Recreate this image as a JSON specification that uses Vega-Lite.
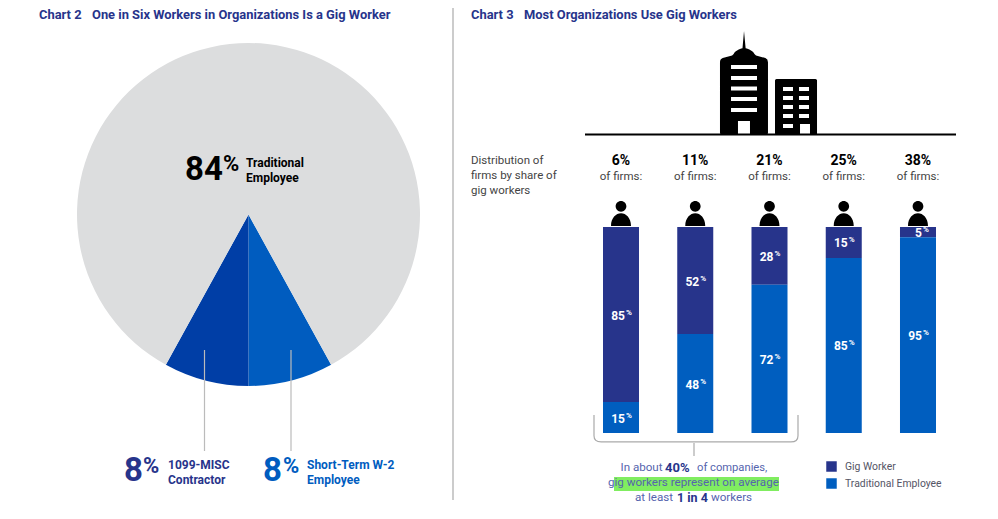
{"$schema":"https://vega.github.io/schema/vega-lite/v6.json","padding":0,"spacing":0,"bounds":"flush","resolve":{"scale":{"color":"independent"}},"config":{"view":{"stroke":null},"text":{"font":"Roboto","baseline":"middle","align":"left","dy":1},"legend":{"labelFont":"Roboto"}},"background":"white",
"datasets":{"pie":[{"segment":"Short-Term W-2 Employee","idx":1,"share":8},{"segment":"1099-MISC Contractor","idx":2,"share":8},{"segment":"Traditional Employee","idx":3,"share":84}],
"gig":[{"group":"6%","type":"Gig Worker","share":85},{"group":"6%","type":"Traditional Employee","share":15},{"group":"11%","type":"Gig Worker","share":52},{"group":"11%","type":"Traditional Employee","share":48},{"group":"21%","type":"Gig Worker","share":28},{"group":"21%","type":"Traditional Employee","share":72},{"group":"25%","type":"Gig Worker","share":15},{"group":"25%","type":"Traditional Employee","share":85},{"group":"38%","type":"Gig Worker","share":5},{"group":"38%","type":"Traditional Employee","share":95}],
"firms":[{"group":"6%"},{"group":"11%"},{"group":"21%"},{"group":"25%"},{"group":"38%"}]},
"hconcat":[
{"width":453,"height":519,"layer":[
{"data":{"name":"pie"},"mark":{"type":"arc","outerRadius":171.5},"encoding":{"theta":{"field":"share","type":"quantitative","scale":{"range":[2.639,8.922]}},"order":{"field":"idx"},"color":{"field":"segment","type":"nominal","legend":null,"scale":{"domain":["Short-Term W-2 Employee","1099-MISC Contractor","Traditional Employee"],"range":["#005cbf","#003ea6","#dcddde"]}},"x":{"datum":248.5,"type":"quantitative","scale":{"domain":[0,453],"nice":false},"axis":null},"y":{"datum":214.5,"type":"quantitative","scale":{"domain":[519,0],"nice":false},"axis":null}}},
{"data":{"values":[{}]},"layer":[
{"mark":{"type":"rule","color":"#bbbbbb","strokeWidth":1.5},"encoding":{"x":{"datum":453,"type":"quantitative","scale":{"domain":[0,453],"nice":false},"axis":null},"y":{"datum":8,"type":"quantitative","scale":{"domain":[519,0],"nice":false},"axis":null},"y2":{"datum":500}}},
{"mark":{"type":"rule","color":"#bbbbbb","strokeWidth":1.2},"encoding":{"x":{"datum":204.5,"type":"quantitative","scale":{"domain":[0,453],"nice":false},"axis":null},"y":{"datum":350,"type":"quantitative","scale":{"domain":[519,0],"nice":false},"axis":null},"y2":{"datum":451}}},
{"mark":{"type":"rule","color":"#bbbbbb","strokeWidth":1.2},"encoding":{"x":{"datum":291,"type":"quantitative","scale":{"domain":[0,453],"nice":false},"axis":null},"y":{"datum":350,"type":"quantitative","scale":{"domain":[519,0],"nice":false},"axis":null},"y2":{"datum":451}}},
{"mark":{"type":"text","text":"Chart 2","fontWeight":"bold","fontSize":12.9,"color":"#27348b"},"encoding":{"x":{"datum":39,"type":"quantitative","scale":{"domain":[0,453],"nice":false},"axis":null},"y":{"datum":14,"type":"quantitative","scale":{"domain":[519,0],"nice":false},"axis":null}}},
{"mark":{"type":"text","text":"One in Six Workers in Organizations Is a Gig Worker","fontWeight":"bold","fontSize":12.9,"color":"#27348b"},"encoding":{"x":{"datum":92,"type":"quantitative","scale":{"domain":[0,453],"nice":false},"axis":null},"y":{"datum":14,"type":"quantitative","scale":{"domain":[519,0],"nice":false},"axis":null}}},
{"mark":{"type":"text","text":"84","fontWeight":"bold","fontSize":33,"color":"#000000"},"encoding":{"x":{"datum":185,"type":"quantitative","scale":{"domain":[0,453],"nice":false},"axis":null},"y":{"datum":169,"type":"quantitative","scale":{"domain":[519,0],"nice":false},"axis":null}}},
{"mark":{"type":"text","text":"%","fontWeight":"bold","fontSize":22,"color":"#000000"},"encoding":{"x":{"datum":223,"type":"quantitative","scale":{"domain":[0,453],"nice":false},"axis":null},"y":{"datum":163,"type":"quantitative","scale":{"domain":[519,0],"nice":false},"axis":null}}},
{"mark":{"type":"text","text":"Traditional","fontWeight":"bold","fontSize":12,"color":"#000000"},"encoding":{"x":{"datum":246,"type":"quantitative","scale":{"domain":[0,453],"nice":false},"axis":null},"y":{"datum":162,"type":"quantitative","scale":{"domain":[519,0],"nice":false},"axis":null}}},
{"mark":{"type":"text","text":"Employee","fontWeight":"bold","fontSize":12,"color":"#000000"},"encoding":{"x":{"datum":246,"type":"quantitative","scale":{"domain":[0,453],"nice":false},"axis":null},"y":{"datum":177,"type":"quantitative","scale":{"domain":[519,0],"nice":false},"axis":null}}},
{"mark":{"type":"text","text":"8","fontWeight":"bold","fontSize":33,"color":"#27348b"},"encoding":{"x":{"datum":124,"type":"quantitative","scale":{"domain":[0,453],"nice":false},"axis":null},"y":{"datum":470,"type":"quantitative","scale":{"domain":[519,0],"nice":false},"axis":null}}},
{"mark":{"type":"text","text":"%","fontWeight":"bold","fontSize":22,"color":"#27348b"},"encoding":{"x":{"datum":143,"type":"quantitative","scale":{"domain":[0,453],"nice":false},"axis":null},"y":{"datum":465,"type":"quantitative","scale":{"domain":[519,0],"nice":false},"axis":null}}},
{"mark":{"type":"text","text":"1099-MISC","fontWeight":"bold","fontSize":12,"color":"#27348b"},"encoding":{"x":{"datum":168,"type":"quantitative","scale":{"domain":[0,453],"nice":false},"axis":null},"y":{"datum":464,"type":"quantitative","scale":{"domain":[519,0],"nice":false},"axis":null}}},
{"mark":{"type":"text","text":"Contractor","fontWeight":"bold","fontSize":12,"color":"#27348b"},"encoding":{"x":{"datum":168,"type":"quantitative","scale":{"domain":[0,453],"nice":false},"axis":null},"y":{"datum":479,"type":"quantitative","scale":{"domain":[519,0],"nice":false},"axis":null}}},
{"mark":{"type":"text","text":"8","fontWeight":"bold","fontSize":33,"color":"#005cbf"},"encoding":{"x":{"datum":263,"type":"quantitative","scale":{"domain":[0,453],"nice":false},"axis":null},"y":{"datum":470,"type":"quantitative","scale":{"domain":[519,0],"nice":false},"axis":null}}},
{"mark":{"type":"text","text":"%","fontWeight":"bold","fontSize":22,"color":"#005cbf"},"encoding":{"x":{"datum":283,"type":"quantitative","scale":{"domain":[0,453],"nice":false},"axis":null},"y":{"datum":465,"type":"quantitative","scale":{"domain":[519,0],"nice":false},"axis":null}}},
{"mark":{"type":"text","text":"Short-Term W-2","fontWeight":"bold","fontSize":12,"color":"#005cbf"},"encoding":{"x":{"datum":307,"type":"quantitative","scale":{"domain":[0,453],"nice":false},"axis":null},"y":{"datum":464,"type":"quantitative","scale":{"domain":[519,0],"nice":false},"axis":null}}},
{"mark":{"type":"text","text":"Employee","fontWeight":"bold","fontSize":12,"color":"#005cbf"},"encoding":{"x":{"datum":307,"type":"quantitative","scale":{"domain":[0,453],"nice":false},"axis":null},"y":{"datum":479,"type":"quantitative","scale":{"domain":[519,0],"nice":false},"axis":null}}}
]}
]},
{"width":545,"height":519,"resolve":{"scale":{"x":"independent","y":"independent"}},"layer":[
{"layer":[
{"data":{"name":"gig"},"mark":{"type":"bar"},"encoding":{"x":{"field":"group","type":"nominal","sort":null,"axis":null,"scale":{"domain":["6%","11%","21%","25%","38%"],"range":[150,483],"paddingInner":0.515,"paddingOuter":0}},"y":{"field":"share","type":"quantitative","stack":"zero","axis":null,"scale":{"domain":[-41.748,210.19],"nice":false,"zero":false}},"color":{"field":"type","type":"nominal","title":null,"scale":{"domain":["Gig Worker","Traditional Employee"],"range":["#27348b","#005ebf"]},"legend":{"orient":"none","legendX":373,"legendY":461,"symbolType":"square","symbolSize":110,"labelFontSize":10.4,"labelColor":"#555566","labelOffset":8,"rowPadding":6,"symbolStrokeWidth":0}}}},
{"data":{"name":"gig"},"transform":[{"stack":"share","groupby":["group"],"sort":[{"field":"type","order":"descending"}],"as":["y0","y1"]},{"fold":["y0","y1"],"as":["k","v"]},{"aggregate":[{"op":"mean","field":"v","as":"mid"}],"groupby":["group","type","share"]}],"layer":[
{"mark":{"type":"text","align":"right","dx":4,"dy":1,"color":"white","fontWeight":"bold","fontSize":12},"encoding":{"text":{"field":"share","type":"quantitative"},"x":{"field":"group","type":"nominal","sort":null,"axis":null,"scale":{"domain":["6%","11%","21%","25%","38%"],"range":[150,483],"paddingInner":0.515,"paddingOuter":0}},"y":{"field":"mid","type":"quantitative","axis":null,"scale":{"domain":[-41.748,210.19],"nice":false,"zero":false}}}},
{"mark":{"type":"text","text":"%","align":"left","dx":5,"dy":-2,"color":"white","fontWeight":"bold","fontSize":8},"encoding":{"x":{"field":"group","type":"nominal","sort":null,"axis":null,"scale":{"domain":["6%","11%","21%","25%","38%"],"range":[150,483],"paddingInner":0.515,"paddingOuter":0}},"y":{"field":"mid","type":"quantitative","axis":null,"scale":{"domain":[-41.748,210.19],"nice":false,"zero":false}}}}
]},
{"data":{"name":"firms"},"layer":[
{"mark":{"type":"text","align":"center","fontWeight":"bold","fontSize":14,"color":"#000000"},"encoding":{"text":{"field":"group","type":"nominal"},"x":{"field":"group","type":"nominal","sort":null,"axis":null,"scale":{"domain":["6%","11%","21%","25%","38%"],"range":[150,483],"paddingInner":0.515,"paddingOuter":0}},"y":{"datum":132.5,"type":"quantitative","axis":null,"scale":{"domain":[-41.748,210.19],"nice":false,"zero":false}}}},
{"mark":{"type":"text","text":"of firms:","align":"center","fontSize":11.5,"color":"#444444"},"encoding":{"x":{"field":"group","type":"nominal","sort":null,"axis":null,"scale":{"domain":["6%","11%","21%","25%","38%"],"range":[150,483],"paddingInner":0.515,"paddingOuter":0}},"y":{"datum":124.7,"type":"quantitative","axis":null,"scale":{"domain":[-41.748,210.19],"nice":false,"zero":false}}}},
{"mark":{"type":"point","filled":true,"opacity":1,"color":"#000000","size":625,"shape":"M0 -1 C0.24 -1 0.43 -0.81 0.43 -0.57 C0.43 -0.33 0.24 -0.14 0 -0.14 C-0.24 -0.14 -0.43 -0.33 -0.43 -0.57 C-0.43 -0.81 -0.24 -1 0 -1 Z M-0.8 1 C-0.8 0.35 -0.4 -0.02 0 -0.02 C0.4 -0.02 0.8 0.35 0.8 1 Z"},"encoding":{"x":{"field":"group","type":"nominal","sort":null,"axis":null,"scale":{"domain":["6%","11%","21%","25%","38%"],"range":[150,483],"paddingInner":0.515,"paddingOuter":0}},"y":{"datum":106.6,"type":"quantitative","axis":null,"scale":{"domain":[-41.748,210.19],"nice":false,"zero":false}}}}
]}
]},
{"data":{"values":[{}]},"layer":[
{"mark":{"type":"text","text":"Chart 3","fontWeight":"bold","fontSize":12.9,"color":"#27348b"},"encoding":{"x":{"datum":471,"type":"quantitative","scale":{"domain":[453,998],"nice":false,"zero":false},"axis":null},"y":{"datum":14,"type":"quantitative","scale":{"domain":[519,0],"nice":false},"axis":null}}},
{"mark":{"type":"text","text":"Most Organizations Use Gig Workers","fontWeight":"bold","fontSize":12.9,"color":"#27348b"},"encoding":{"x":{"datum":524,"type":"quantitative","scale":{"domain":[453,998],"nice":false,"zero":false},"axis":null},"y":{"datum":14,"type":"quantitative","scale":{"domain":[519,0],"nice":false},"axis":null}}},
{"mark":{"type":"point","filled":true,"opacity":1,"color":"#000000","size":10816,"shape":"M-0.471 -1 L-0.44 -0.67 C-0.38 -0.66 -0.3 -0.62 -0.27 -0.56 L-0.24 -0.53 L-0.06 -0.48 Q-0.01 -0.46 -0.01 -0.4 L-0.01 0.96 Q-0.01 1 -0.05 1 L-0.89 1 Q-0.933 1 -0.933 0.96 L-0.933 -0.4 Q-0.933 -0.46 -0.88 -0.48 L-0.7 -0.53 L-0.67 -0.56 C-0.64 -0.62 -0.56 -0.66 -0.5 -0.67 Z M-0.721 -0.346 V-0.269 H-0.221 V-0.346 Z M-0.721 -0.135 V-0.058 H-0.221 V-0.135 Z M-0.721 0.067 V0.144 H-0.221 V0.067 Z M-0.721 0.269 V0.346 H-0.221 V0.269 Z M-0.721 0.481 V0.558 H-0.221 V0.481 Z M-0.587 0.731 V1 H-0.356 V0.731 Z M0.155 -0.077 L0.903 -0.077 Q0.933 -0.077 0.933 -0.047 L0.933 0.97 Q0.933 1 0.903 1 L0.155 1 Q0.125 1 0.125 0.97 L0.125 -0.047 Q0.125 -0.077 0.155 -0.077 Z M0.279 0.077 V0.154 H0.471 V0.077 Z M0.587 0.077 V0.154 H0.779 V0.077 Z M0.279 0.25 V0.327 H0.471 V0.25 Z M0.587 0.25 V0.327 H0.779 V0.25 Z M0.279 0.423 V0.5 H0.471 V0.423 Z M0.587 0.423 V0.5 H0.779 V0.423 Z M0.279 0.596 V0.673 H0.471 V0.596 Z M0.587 0.596 V0.673 H0.779 V0.596 Z M0.279 0.788 V0.865 H0.471 V0.788 Z M0.606 0.788 V1 H0.798 V0.788 Z"},"encoding":{"x":{"datum":768.5,"type":"quantitative","scale":{"domain":[453,998],"nice":false,"zero":false},"axis":null},"y":{"datum":83,"type":"quantitative","scale":{"domain":[519,0],"nice":false},"axis":null}}},
{"mark":{"type":"rule","color":"#000000","strokeWidth":2},"encoding":{"x":{"datum":585,"type":"quantitative","scale":{"domain":[453,998],"nice":false,"zero":false},"axis":null},"x2":{"datum":956},"y":{"datum":134.5,"type":"quantitative","scale":{"domain":[519,0],"nice":false},"axis":null}}},
{"mark":{"type":"text","text":"Distribution of","fontSize":11.5,"color":"#444444"},"encoding":{"x":{"datum":471,"type":"quantitative","scale":{"domain":[453,998],"nice":false,"zero":false},"axis":null},"y":{"datum":160,"type":"quantitative","scale":{"domain":[519,0],"nice":false},"axis":null}}},
{"mark":{"type":"text","text":"firms by share of","fontSize":11.5,"color":"#444444"},"encoding":{"x":{"datum":471,"type":"quantitative","scale":{"domain":[453,998],"nice":false,"zero":false},"axis":null},"y":{"datum":175,"type":"quantitative","scale":{"domain":[519,0],"nice":false},"axis":null}}},
{"mark":{"type":"text","text":"gig workers","fontSize":11.5,"color":"#444444"},"encoding":{"x":{"datum":471,"type":"quantitative","scale":{"domain":[453,998],"nice":false,"zero":false},"axis":null},"y":{"datum":190,"type":"quantitative","scale":{"domain":[519,0],"nice":false},"axis":null}}},
{"mark":{"type":"point","filled":false,"opacity":1,"color":"#aaaaaa","strokeWidth":1.2,"size":41616,"shape":"M-1 -0.132 L-1 0.07 Q-1 0.132 -0.93 0.132 L0.93 0.132 Q1 0.132 1 0.07 L1 -0.132"},"encoding":{"x":{"datum":696,"type":"quantitative","scale":{"domain":[453,998],"nice":false,"zero":false},"axis":null},"y":{"datum":428.5,"type":"quantitative","scale":{"domain":[519,0],"nice":false},"axis":null}}},
{"mark":{"type":"rule","color":"#aaaaaa","strokeWidth":1.2},"encoding":{"x":{"datum":694,"type":"quantitative","scale":{"domain":[453,998],"nice":false,"zero":false},"axis":null},"y":{"datum":443,"type":"quantitative","scale":{"domain":[519,0],"nice":false},"axis":null},"y2":{"datum":456}}},
{"mark":{"type":"rect","color":"#80ed60"},"encoding":{"x":{"datum":614,"type":"quantitative","scale":{"domain":[453,998],"nice":false,"zero":false},"axis":null},"x2":{"datum":779},"y":{"datum":477,"type":"quantitative","scale":{"domain":[519,0],"nice":false},"axis":null},"y2":{"datum":491}}},
{"mark":{"type":"text","text":"In about","fontSize":11.6,"color":"#5564ae"},"encoding":{"x":{"datum":620.5,"type":"quantitative","scale":{"domain":[453,998],"nice":false,"zero":false},"axis":null},"y":{"datum":467,"type":"quantitative","scale":{"domain":[519,0],"nice":false},"axis":null}}},
{"mark":{"type":"text","text":"40%","fontSize":13,"fontWeight":"bold","color":"#27348b"},"encoding":{"x":{"datum":665,"type":"quantitative","scale":{"domain":[453,998],"nice":false,"zero":false},"axis":null},"y":{"datum":467,"type":"quantitative","scale":{"domain":[519,0],"nice":false},"axis":null}}},
{"mark":{"type":"text","text":"of companies,","fontSize":11.2,"color":"#5564ae"},"encoding":{"x":{"datum":697,"type":"quantitative","scale":{"domain":[453,998],"nice":false,"zero":false},"axis":null},"y":{"datum":467,"type":"quantitative","scale":{"domain":[519,0],"nice":false},"axis":null}}},
{"mark":{"type":"text","text":"gig workers represent on average","fontSize":11.6,"color":"#5564ae"},"encoding":{"x":{"datum":608,"type":"quantitative","scale":{"domain":[453,998],"nice":false,"zero":false},"axis":null},"y":{"datum":482,"type":"quantitative","scale":{"domain":[519,0],"nice":false},"axis":null}}},
{"mark":{"type":"text","text":"at least","fontSize":11.6,"color":"#5564ae"},"encoding":{"x":{"datum":635,"type":"quantitative","scale":{"domain":[453,998],"nice":false,"zero":false},"axis":null},"y":{"datum":497,"type":"quantitative","scale":{"domain":[519,0],"nice":false},"axis":null}}},
{"mark":{"type":"text","text":"1 in 4","fontSize":12.5,"fontWeight":"bold","color":"#27348b"},"encoding":{"x":{"datum":677,"type":"quantitative","scale":{"domain":[453,998],"nice":false,"zero":false},"axis":null},"y":{"datum":497,"type":"quantitative","scale":{"domain":[519,0],"nice":false},"axis":null}}},
{"mark":{"type":"text","text":"workers","fontSize":11.6,"color":"#5564ae"},"encoding":{"x":{"datum":711,"type":"quantitative","scale":{"domain":[453,998],"nice":false,"zero":false},"axis":null},"y":{"datum":497,"type":"quantitative","scale":{"domain":[519,0],"nice":false},"axis":null}}}
]}
]}
]}
